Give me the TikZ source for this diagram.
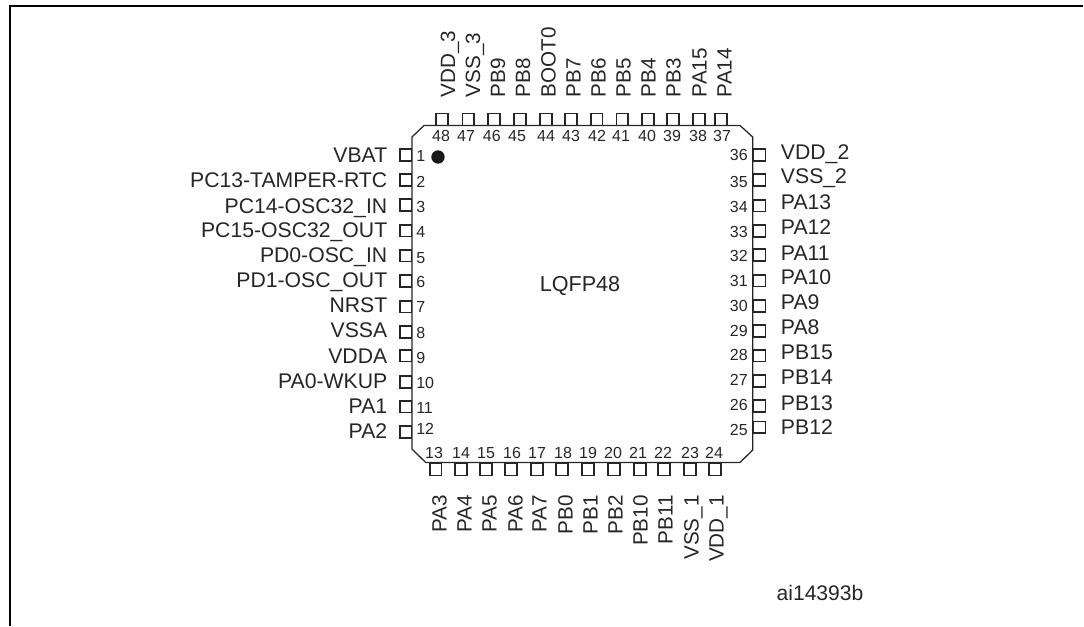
\documentclass[tikz,border=0pt]{standalone}
\usepackage{fontspec}
\setmainfont{Liberation Sans}
\usepackage{tikz}
\usetikzlibrary{calc}

\tikzset{x=0.75pt,y=-0.75pt,
	pinbox/.style={draw=black!85,line width=1.25pt,minimum size=8.9pt,inner sep=0pt},
	pinnum/.style={font=\fontsize{12}{14}\selectfont,text=black!85,inner sep=0pt,text height=8.6pt,text depth=0pt},
	pinname/.style={font=\fontsize{15.9}{18}\selectfont,text=black!85,inner sep=0pt,text height=11.4pt,text depth=0pt},
	pinvert/.style={pinname,font=\fontsize{15.5}{18}\selectfont,rotate=90}
}

\begin{document}
\begin{tikzpicture}
\useasboundingbox (0,0) rectangle (1084,626);

%frame
\draw [line width=1.5pt] (10,626) -- (10,5.7) -- (1083,5.7);

%package body
\draw [black!85,line width=0.95pt] (424,125.5) -- (740,125.5) -- (752.7,137) -- (752.7,450) -- (740,462.5) -- (425.7,462.5) -- (412,449) -- (412,137) -- cycle;

\node [circle,fill=black!90,minimum size=10pt,inner sep=0pt] (dot) at (438,157) {};
\node [pinname,font=\fontsize{16.2}{18}\selectfont] (partname) at (580,284) {LQFP48};
\node [pinname,font=\fontsize{15.8}{18}\selectfont] (refcode) at (820,592.5) {ai14393b};

%left side
\foreach \pinno/\pinlabel/\ypin/\yname/\ynum in {1/VBAT/155/155/156,2/PC13-TAMPER-RTC/180/180/181.7,3/PC14-OSC32\_IN/205/205.7/206.7,4/PC15-OSC32\_OUT/230.7/230/231.7,5/PD0-OSC\_IN/255.7/255/257.3,6/PD1-OSC\_OUT/281/280/281.7,7/NRST/306.7/305/306.7,8/VSSA/332/330/332.3,9/VDDA/355.7/355.7/357.7,10/PA0-WKUP/382/381/382.7,11/PA1/406.7/406/407.7,12/PA2/432/431/429}
{
	\node [pinbox] (pin\pinno) at (405.7,\ypin) {};
	\node [pinname,anchor=east] (name\pinno) at (387.5,\yname) {\pinlabel};
	\node [pinnum,anchor=west] (num\pinno) at (416,\ynum) {\pinno};
}

%bottom side
\foreach \pinno/\pinlabel/\xpin/\xname/\xnum in {13/PA3/435.7/439/434,14/PA4/461/464/461,15/PA5/486/489/486,16/PA6/511/515/512,17/PA7/537/539/537,18/PB0/562/565/563,19/PB1/588/590/588,20/PB2/614/615/613,21/PB10/640/640/638,22/PB11/664/665/663,23/VSS\_1/690/691/690,24/VDD\_1/715/716/714}
{
	\node [pinbox] (pin\pinno) at (\xpin,469.5) {};
	\node [pinvert,anchor=east] (name\pinno) at (\xname,495) {\pinlabel};
	\node [pinnum] (num\pinno) at (\xnum,452.3) {\pinno};
}

%right side
\foreach \pinno/\pinlabel/\ypin/\yname/\ynum in {25/PB12/427.3/427.3/429.3,26/PB13/406/402.7/404.3,27/PB14/381/377.3/379.3,28/PB15/355.7/352.3/354.3,29/PA8/331/327.3/330.7,30/PA9/306/302.3/305.7,31/PA10/280.7/277.3/280.7,32/PA11/255/252.7/255.7,33/PA12/231/226.7/231.7,34/PA13/205.7/201.7/206.7,35/VSS\_2/180/176/181.7,36/VDD\_2/155/151.7/155}
{
	\node [pinbox] (pin\pinno) at (759.5,\ypin) {};
	\node [pinname,anchor=west] (name\pinno) at (780.7,\yname) {\pinlabel};
	\node [pinnum,anchor=east] (num\pinno) at (748,\ynum) {\pinno};
}

%top side
\foreach \pinno/\pinlabel/\xpin/\xname/\xnum in {48/VDD\_3/442/447.5/441,47/VSS\_3/468.3/472.5/466,46/PB9/494/497.5/491.8,45/PB8/519.8/522.5/517,44/BOOT0/546/548/546,43/PB7/571/573/571,42/PB6/596.7/598/597,41/PB5/622.3/623/621,40/PB4/648/648/647,39/PB3/673/673/672,38/PA15/699/699/698,37/PA14/721/724/722}
{
	\node [pinbox] (pin\pinno) at (\xpin,119.5) {};
	\node [pinvert,anchor=west] (name\pinno) at (\xname,97.5) {\pinlabel};
	\node [pinnum] (num\pinno) at (\xnum,136) {\pinno};
}
\end{tikzpicture}
\end{document}
